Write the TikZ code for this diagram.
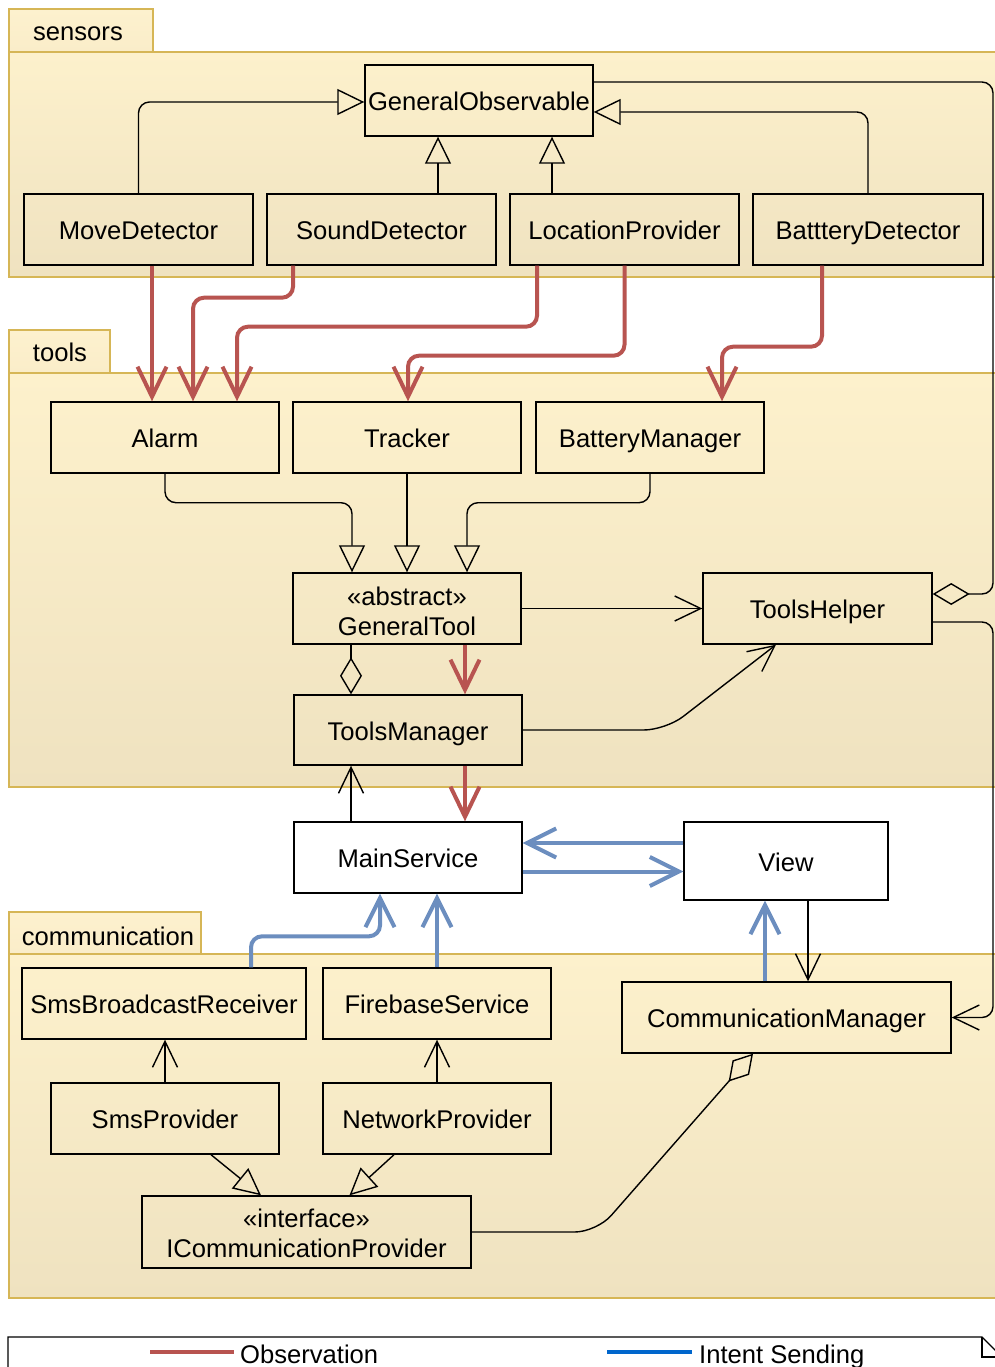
\documentclass[tikz,border=0pt]{standalone}
\usepackage{fontspec}
\setmainfont{Liberation Sans}
\usetikzlibrary{arrows.meta}
\definecolor{pkgline}{HTML}{D6B656}
\definecolor{pkgtop}{HTML}{FDF1CC}
\definecolor{pkgbot}{HTML}{EFE2C0}
\definecolor{tabtop}{HTML}{FDF1CE}
\definecolor{tabbot}{HTML}{FAEDC9}
\definecolor{obsred}{HTML}{B85450}
\definecolor{intblue}{HTML}{6C8EBF}
\definecolor{legblue}{HTML}{0066CC}

\begin{document}
\begin{tikzpicture}[x=1pt,y=-1pt,
  every node/.style={font=\fontsize{25.6}{30}\selectfont},
  cls/.style={draw=black, line width=1.4pt, inner sep=0pt, minimum height=71pt,
    minimum width=228pt, align=center, text height=20.4pt, text depth=0pt},
  pkgbody/.style={draw=pkgline, line width=1.4pt, top color=pkgtop, bottom color=pkgbot},
  pkgtab/.style={draw=pkgline, line width=1.4pt, top color=tabtop, bottom color=tabbot},
  pkglabel/.style={anchor=base, inner sep=0pt},
  link/.style={draw=black, line width=1.4pt},
  inh/.style={link, -{Triangle[open, length=27pt, width=26pt]}},
  dep/.style={link, -{Straight Barb[length=26pt, width=25pt]}},
  agg/.style={link, -{Diamond[open, length=37pt, width=22pt]}},
  obs/.style={draw=obsred, line width=4pt, -{Straight Barb[length=30pt, width=29pt]}},
  intent/.style={draw=intblue, line width=4pt, -{Straight Barb[length=29pt, width=29pt]}},
  rc/.style={rounded corners=11pt}]

\useasboundingbox (0,0) rectangle (995,1367);
\clip (0,0) rectangle (995,1367);
\fill[white] (0,0) rectangle (995,1367);

% packages
\path[pkgbody] (9,52) rectangle (1002,277);
\path[pkgtab] (9,9) rectangle (153,52);
\node[pkglabel] (pSensors) at (78,40.5) {sensors};

\path[pkgbody] (9,373) rectangle (1002,787);
\path[pkgtab] (9,330) rectangle (110,373);
\node[pkglabel] (pTools) at (60,361.5) {tools};

\path[pkgbody] (9,954) rectangle (1002,1298);
\path[pkgtab] (9,912) rectangle (201,954);
\node[pkglabel] (pComm) at (108,945) {communication};

% sensors
\node[cls] (go) at (479,100.5) {GeneralObservable};
\node[cls, minimum width=229pt] (md) at (138.5,229.5) {MoveDetector};
\node[cls, minimum width=229pt] (sd) at (381.5,229.5) {SoundDetector};
\node[cls, minimum width=229pt] (lp) at (624.5,229.5) {LocationProvider};
\node[cls, minimum width=230pt] (bd) at (868,229.5) {BattteryDetector};

% tools
\node[cls] (al) at (165,437.5) {Alarm};
\node[cls] (tr) at (407,437.5) {Tracker};
\node[cls] (bm) at (650,437.5) {BatteryManager};
\node[cls, text height=54pt] (gt) at (407,608.5) {«abstract»\\GeneralTool};
\node[cls, minimum width=229pt] (th) at (817.5,608.5) {ToolsHelper};
\node[cls, minimum height=70pt] (tm) at (408,730) {ToolsManager};

% service and view
\node[cls, fill=white] (ms) at (408,857.5) {MainService};
\node[cls, fill=white, minimum width=204pt, minimum height=78pt] (vw) at (786,861) {View};

% communication
\node[cls, minimum width=284pt] (sbr) at (164,1003.5) {SmsBroadcastReceiver};
\node[cls] (fs) at (437,1003.5) {FirebaseService};
\node[cls, minimum width=329pt] (cm) at (786.5,1017.5) {CommunicationManager};
\node[cls] (sp) at (165,1118.5) {SmsProvider};
\node[cls] (np) at (437,1118.5) {NetworkProvider};
\node[cls, minimum width=329pt, minimum height=72pt, text height=50pt] (icp) at (306.5,1232) {«interface»\\ICommunicationProvider};

% sensor generalisations
\coordinate (goW) at ([yshift=-1.5pt]go.west);
\draw[inh, rc] (md.north) |- (goW);
\coordinate (goS1) at ([xshift=-41pt]go.south);
\draw[inh] (goS1 |- sd.north) -- (goS1);
\coordinate (goS2) at ([xshift=73pt]go.south);
\draw[inh] (goS2 |- lp.north) -- (goS2);
\coordinate (goE1) at ([yshift=-11.5pt]go.east);
\draw[inh, rc] (bd.north) |- (goE1);

% right-hand rail
\coordinate (rail) at (993,0);
\coordinate (goE2) at ([yshift=18.5pt]go.east);
\coordinate (thE1) at ([yshift=14.5pt]th.east);
\draw[agg, rc] (goE2) -- (rail |- goE2) -- (rail |- thE1) -- (thE1);
\coordinate (thE2) at ([yshift=-13.5pt]th.east);
\draw[dep, rc] (thE2) -- (rail |- thE2) -- (rail |- cm.east) -- (cm.east);

% observation from sensors to tools
\coordinate (mdS) at ([xshift=13.5pt]md.south);
\draw[obs] (mdS) -- (mdS |- al.north);
\coordinate (sdS) at ([xshift=-88.5pt]sd.south);
\coordinate (alN2) at ([xshift=28pt]al.north);
\draw[obs, rc] (sdS) -- ++(0,32) -| (alN2);
\coordinate (lpS1) at ([xshift=-87.5pt]lp.south);
\coordinate (alN3) at ([xshift=72pt]al.north);
\draw[obs, rc] (lpS1) -- ++(0,61) -| (alN3);
\coordinate (trN) at ([xshift=1pt]tr.north);
\draw[obs, rc] (lp.south) -- ++(0,90) -| (trN);
\coordinate (bdS) at ([xshift=-46pt]bd.south);
\coordinate (bmN) at ([xshift=72pt]bm.north);
\draw[obs, rc] (bdS) -- ++(0,81) -| (bmN);

% tools
\coordinate (gtN1) at ([xshift=-55pt]gt.north);
\draw[inh, rc] (al.south) -- ++(0,29) -| (gtN1);
\draw[inh] (tr.south) -- (gt.north);
\coordinate (gtN3) at ([xshift=60pt]gt.north);
\draw[inh, rc] (bm.south) -- ++(0,29) -| (gtN3);
\draw[dep] (gt.east) -- (th.west);
\coordinate (gtS1) at ([xshift=-56pt]gt.south);
\draw[agg] (gtS1) -- (gtS1 |- tm.north);
\coordinate (gtS2) at ([xshift=58pt]gt.south);
\draw[obs] (gtS2) -- (gtS2 |- tm.north);
\coordinate (thS) at ([xshift=-41.5pt]th.south);
\draw[dep, rounded corners=22pt] (tm.east) -- ++(143,0) -- (thS);
\coordinate (msN) at ([xshift=-57pt]ms.north);
\draw[dep] (msN) -- (msN |- tm.south);
\coordinate (tmS) at ([xshift=57pt]tm.south);
\draw[obs] (tmS) -- (tmS |- ms.north);

% intents
\coordinate (vwW) at ([yshift=18pt]vw.west);
\draw[intent] (vwW) -- (vwW -| ms.east);
\coordinate (msE) at ([yshift=-14pt]ms.east);
\draw[intent] (msE) -- (msE -| vw.west);
\coordinate (sbrN) at ([xshift=87pt]sbr.north);
\coordinate (msS) at ([xshift=-28pt]ms.south);
\draw[intent, rc] (sbrN) -- ++(0,-31) -| (msS);
\draw[intent] (fs.north) -- (fs.north |- ms.south);
\coordinate (cmN1) at ([xshift=-21.5pt]cm.north);
\draw[intent] (cmN1) -- (cmN1 |- vw.south);
\coordinate (vwS) at ([xshift=22pt]vw.south);
\draw[dep] (vwS) -- (vwS |- cm.north);

% communication
\draw[dep] (sp.north) -- (sp.north |- sbr.south);
\draw[dep] (np.north) -- (np.north |- fs.south);
\coordinate (spS) at ([xshift=46pt]sp.south);
\coordinate (icpN1) at ([xshift=-45.5pt]icp.north);
\draw[inh] (spS) -- (icpN1);
\coordinate (npS) at ([xshift=-43pt]np.south);
\coordinate (icpN2) at ([xshift=43pt]icp.north);
\draw[inh] (npS) -- (icpN2);
\coordinate (cmS) at ([xshift=-33.5pt]cm.south);
\draw[agg, rounded corners=22pt] (icp.east) -- ++(125,0) -- (cmS);

% legend
\path[draw=black, fill=white, line width=1.4pt] (8,1380) -- (8,1337) -- (982,1337) -- (1002,1357) -- (1002,1380);
\draw[line width=1.4pt] (982,1337) -- (982,1357) -- (1002,1357);
\node[anchor=base west, inner sep=0pt] (obsLbl) at (240,1363.5) {Observation};
\draw[draw=obsred, line width=4pt] ([xshift=-90pt,yshift=11.5pt]obsLbl.base west) -- ([xshift=-6pt,yshift=11.5pt]obsLbl.base west);
\node[anchor=base west, inner sep=0pt] (intLbl) at (699,1363.5) {Intent Sending};
\draw[draw=legblue, line width=4pt] ([xshift=-92pt,yshift=11.5pt]intLbl.base west) -- ([xshift=-7pt,yshift=11.5pt]intLbl.base west);
\end{tikzpicture}
\end{document}
